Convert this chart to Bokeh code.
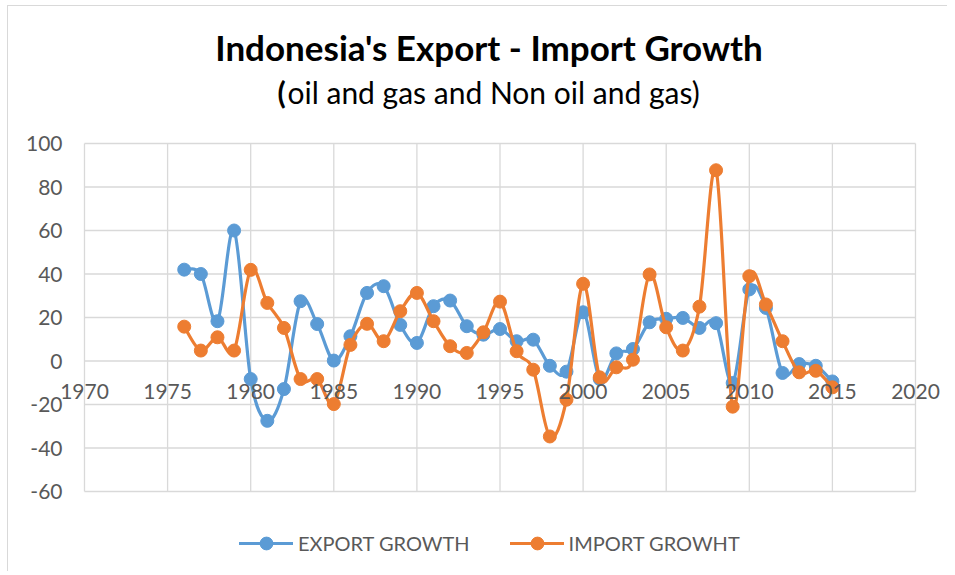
import numpy as np
from bokeh.plotting import figure
from bokeh.models import (Range1d, FixedTicker, Legend, LegendItem, Label,
                          LinearAxis, ColumnDataSource, PrintfTickFormatter)
from bokeh.embed import file_html
from bokeh.resources import INLINE

years = list(range(1976, 2016))
export_growth = [42, 40, 18.3, 60, -8.3, -27.5, -12.9, 27.5, 17.0, 0.2,
                 11.4, 31.3, 34.4, 16.6, 8.3, 25.2, 27.8, 16.0, 12.1, 14.7,
                 9.1, 9.8, -2.2, -4.9, 22.4, -8.3, 3.5, 5.5, 17.8, 19.4,
                 19.8, 15.2, 17.4, -10.1, 32.9, 24.4, -5.5, -1.4, -2.2, -9.4]
import_growth = [15.8, 4.8, 10.9, 4.8, 41.9, 26.7, 15.2, -8.3, -8.3, -19.8,
                 7.4, 17.1, 9.1, 22.9, 31.3, 18.3, 6.8, 3.7, 13.2, 27.3,
                 4.5, -4.0, -34.7, -17.8, 35.5, -7.5, -2.9, 0.6, 39.8, 15.5,
                 4.8, 25.0, 87.7, -21.0, 39.0, 26.0, 9.1, -5.2, -4.5, -12.1]
x_ticks = [1970, 1975, 1980, 1985, 1990, 1995, 2000, 2005, 2010, 2015, 2020]
y_ticks = [-60, -40, -20, 0, 20, 40, 60, 80, 100]
series_names = ["EXPORT GROWTH", "IMPORT GROWHT"]
colors = ["#5B9BD5", "#ED7D31"]
title_text = "Indonesia's Export - Import Growth"
subtitle_open = "("
subtitle_rest = "oil and gas and Non oil and gas)"

FONT = "Lato"
TXT = "#595959"
GRID = "#d9d9d9"

X_LO, X_HI = x_ticks[0], x_ticks[-1]
Y_LO, Y_HI = y_ticks[0], y_ticks[-1]

# layout in page pixels
FIG_X0, FIG_Y0 = 8, 6                 # content origin (after margin + border)
PLOT_L, PLOT_R, PLOT_T, PLOT_B = 84, 915, 143, 491   # gridded area
FR_L, FR_R, FR_T, FR_B = 82, 917, 6, 571             # bokeh frame
xpp = (X_HI - X_LO) / (PLOT_R - PLOT_L)
ypp = (Y_HI - Y_LO) / (PLOT_B - PLOT_T)


def smooth_segments(x, y):
    x = np.asarray(x, float)
    y = np.asarray(y, float)
    n = len(x)
    xp = np.concatenate([[x[0]], x, [x[-1]]])
    yp = np.concatenate([[y[0]], y, [y[-1]]])
    return dict(
        x0=x[:-1], y0=y[:-1], x1=x[1:], y1=y[1:],
        cx0=x[:-1] + (xp[2:n + 1] - xp[0:n - 1]) / 6,
        cy0=y[:-1] + (yp[2:n + 1] - yp[0:n - 1]) / 6,
        cx1=x[1:] - (xp[3:n + 2] - xp[1:n]) / 6,
        cy1=y[1:] - (yp[3:n + 2] - yp[1:n]) / 6,
    )


p = figure(frame_width=FR_R - FR_L, frame_height=FR_B - FR_T,
           output_backend="svg", toolbar_location=None,
           x_range=Range1d(X_LO - (PLOT_L - FR_L) * xpp, X_HI + (FR_R - PLOT_R) * xpp),
           y_range=Range1d(Y_LO - (FR_B - PLOT_B) * ypp, Y_HI + (PLOT_T - FR_T) * ypp),
           x_axis_location=None, title=None,
           min_border_left=FR_L - FIG_X0, min_border_right=30,
           min_border_top=FR_T - FIG_Y0, min_border_bottom=0)
p.styles = {"margin-left": "7px", "margin-top": "5px",
            "border-left": "1px solid #d9d9d9", "border-top": "1px solid #d9d9d9"}

p.outline_line_color = None
p.xgrid.visible = False
p.ygrid.visible = False

# gridlines restricted to the 1970-2020 x -60..100 box
vg = p.segment(x0=x_ticks, y0=[Y_LO] * len(x_ticks), x1=x_ticks, y1=[Y_HI] * len(x_ticks),
               line_color=GRID, line_width=1.3, level="underlay")
hg = p.segment(x0=[X_LO] * len(y_ticks), y0=y_ticks, x1=[X_HI] * len(y_ticks), y1=y_ticks,
               line_color=GRID, line_width=1.3, level="underlay")

ax = p.yaxis[0]
ax.ticker = FixedTicker(ticks=y_ticks)
ax.formatter = PrintfTickFormatter(format="%d")
ax.axis_line_color = None
ax.major_tick_line_color = None
ax.minor_tick_line_color = None
ax.major_tick_out = 0
ax.major_tick_in = 0
ax.major_label_standoff = 20
ax.major_label_text_font = FONT
ax.major_label_text_font_size = "21px"
ax.major_label_text_color = TXT

# x axis whose labels sit just under the zero line, as in the Excel chart
xax = LinearAxis(ticker=FixedTicker(ticks=x_ticks),
                 formatter=PrintfTickFormatter(format="%d"))
xax.axis_line_color = None
xax.major_tick_line_color = None
xax.minor_tick_line_color = None
xax.major_tick_out = 0
xax.major_tick_in = 0
xax.major_label_standoff = -188
xax.major_label_text_font = FONT
xax.major_label_text_font_size = "21px"
xax.major_label_text_color = TXT
p.add_layout(xax, "below")

items = []
for name, vals, col in zip(series_names, [export_growth, import_growth], colors):
    seg = ColumnDataSource(smooth_segments(years, vals))
    br = p.bezier(x0="x0", y0="y0", x1="x1", y1="y1", cx0="cx0", cy0="cy0",
                  cx1="cx1", cy1="cy1", source=seg, line_color=col,
                  line_width=3.2, line_cap="round")
    sr = p.scatter(years, vals, size=13, fill_color=col, line_color=col)
    items.append(LegendItem(label=name, renderers=[br, sr]))

legend = Legend(items=items, orientation="horizontal", location=(239 - FR_L, FR_B - 559),
                label_text_font=FONT, label_text_font_size="20px",
                label_text_color=TXT, border_line_color=None,
                background_fill_alpha=0, glyph_width=54, glyph_height=32,
                spacing=40, margin=0, padding=0, label_standoff=5)
p.add_layout(legend, "center")

p.add_layout(Label(x=488.5 - FR_L, y=FR_B - 61 + 15, x_units="screen", y_units="screen",
                   text=title_text, text_align="center", text_baseline="alphabetic",
                   text_font=FONT, text_font_size="35px", text_font_style="bold",
                   text_color="black"))
p.add_layout(Label(x=277 - FR_L, y=FR_B - 102 + 11, x_units="screen", y_units="screen",
                   text=subtitle_open, text_align="left", text_baseline="alphabetic",
                   text_font=FONT, text_font_size="30px", text_font_style="bold",
                   text_color="black"))
p.add_layout(Label(x=287 - FR_L, y=FR_B - 102 + 11, x_units="screen", y_units="screen",
                   text=subtitle_rest, text_align="left", text_baseline="alphabetic",
                   text_font=FONT, text_font_size="30px", text_font_style="normal",
                   text_color="black"))

open("out.html", "w").write(file_html(p, INLINE))
